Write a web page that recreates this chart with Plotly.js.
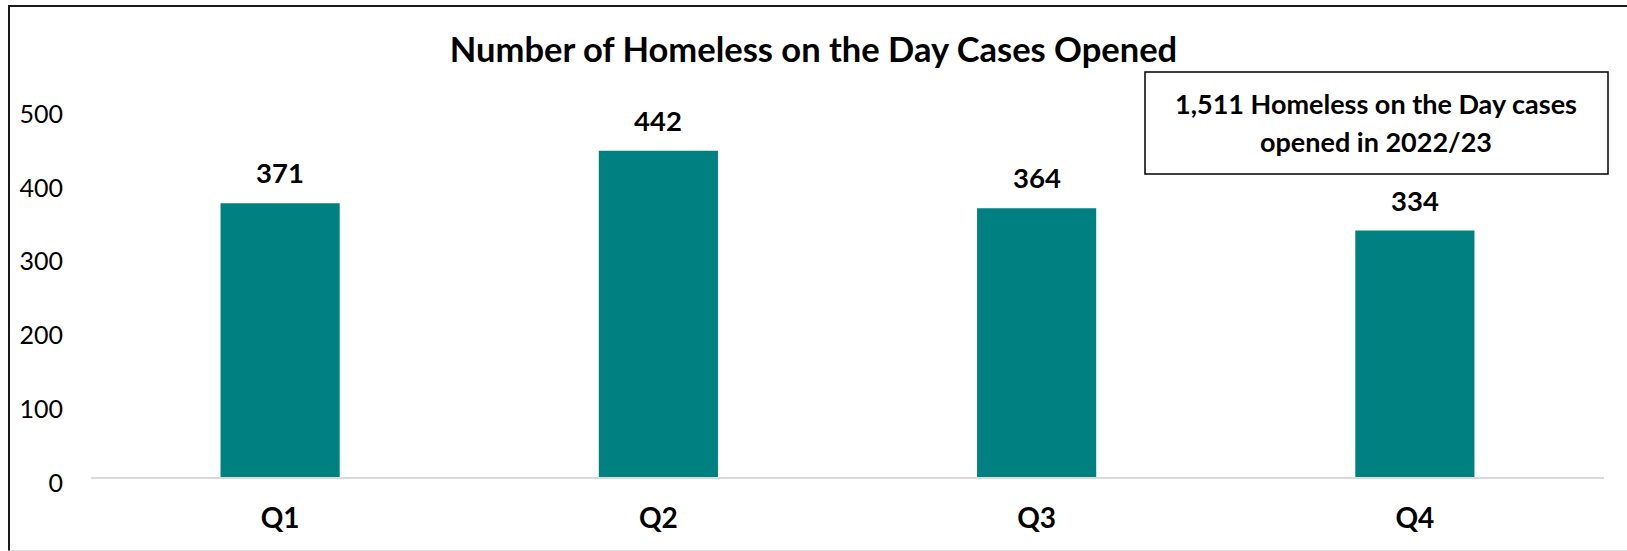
<!DOCTYPE html>
<html>
<head>
<meta charset="utf-8">
<script src="https://cdn.plot.ly/plotly-3.0.1.min.js"></script>
<style>
  html, body { margin: 0; padding: 0; background: #fff; }
  #wrap { position: relative; width: 1627px; height: 551px; overflow: hidden; }
  #chart { position: absolute; left: 0; top: 0; width: 1627px; height: 551px; }
  #frame { position: absolute; left: 8px; top: 5px; width: 1640px; height: 543px;
           border-left: 2px solid #1a1a1a; border-top: 2px solid #1a1a1a;
           border-bottom: 1px solid #dedede; pointer-events: none; }
</style>
</head>
<body>
<div id="wrap">
  <div id="chart"></div>
  <div id="frame"></div>
</div>
<script>
const categories = ["Q1", "Q2", "Q3", "Q4"];
const cases = [371, 442, 364, 334];
const yTicks = [0, 100, 200, 300, 400, 500];
const chartTitle = "Number of Homeless on the Day Cases Opened";
const yearLabel = "2022/23";

const total = cases.reduce((a, b) => a + b, 0);
const totalText = total.toLocaleString("en-GB");

const FONT = "Lato, 'Open Sans', sans-serif";

const trace = {
  type: "bar",
  x: categories,
  y: cases,
  width: 0.315,
  marker: { color: "#008080" },
  hoverinfo: "x+y"
};

const labelAnnotations = categories.map((c, i) => ({
  x: c, y: cases[i], xref: "x", yref: "y",
  text: String(cases[i]),
  showarrow: false, yanchor: "bottom", yshift: 12,
  font: { family: FONT, size: 27.5, color: "#000", weight: "bold" }
}));

const boxAnnotations = [
  {
    xref: "paper", yref: "paper", x: 0.8496, y: (477 - 104) / 369,
    text: totalText + " Homeless on the Day cases",
    showarrow: false, xanchor: "center", yanchor: "middle",
    font: { family: FONT, size: 27, color: "#000", weight: "bold" }
  },
  {
    xref: "paper", yref: "paper", x: 0.8496, y: (477 - 142) / 369,
    text: "opened in " + yearLabel,
    showarrow: false, xanchor: "center", yanchor: "middle",
    font: { family: FONT, size: 27, color: "#000", weight: "bold" }
  }
];

const layout = {
  width: 1627, height: 551,
  margin: { l: 91, r: 23, t: 108, b: 74 },
  paper_bgcolor: "#fff", plot_bgcolor: "#fff",
  showlegend: false,
  title: {
    text: chartTitle,
    xref: "container", yref: "container",
    x: 0.5, xanchor: "center",
    y: 1 - 50 / 551, yanchor: "middle",
    font: { family: FONT, size: 34.5, color: "#000", weight: "bold" }
  },
  xaxis: {
    type: "category",
    showgrid: false, zeroline: false,
    showline: true, linecolor: "#d9d9d9", linewidth: 2,
    ticks: "outside", ticklen: 15, tickcolor: "rgba(0,0,0,0)",
    tickfont: { family: FONT, size: 28, color: "#000", weight: "bold" },
    fixedrange: true
  },
  yaxis: {
    range: [0, 500],
    tickvals: yTicks,
    showgrid: false, zeroline: false, showline: false,
    ticks: "outside", ticklen: 22, tickcolor: "rgba(0,0,0,0)",
    ticklabelshift: 6,
    tickfont: { family: FONT, size: 25, color: "#000" },
    fixedrange: true
  },
  shapes: [
    {
      type: "rect", xref: "paper", yref: "paper",
      x0: (1145 - 91) / 1513, x1: (1608 - 91) / 1513,
      y0: (477 - 174) / 369, y1: (477 - 72) / 369,
      line: { color: "#000", width: 1.5 },
      fillcolor: "#fff", layer: "above"
    }
  ],
  annotations: labelAnnotations.concat(boxAnnotations)
};

Plotly.newPlot("chart", [trace], layout, { displayModeBar: false, staticPlot: true });
</script>
</body>
</html>
